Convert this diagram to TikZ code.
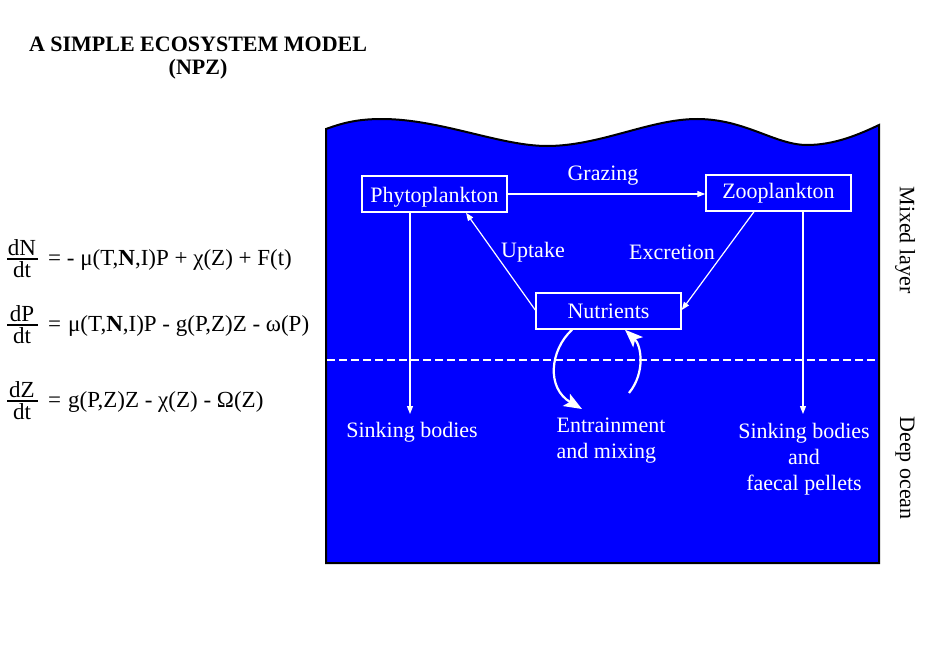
\documentclass[tikz,border=0pt]{standalone}
\usepackage{fontspec}
\setmainfont{Liberation Serif}
\usetikzlibrary{arrows.meta,calc}
\definecolor{sea}{RGB}{0,0,255}
\tikzset{
  every node/.style={font=\fontsize{22}{26}\selectfont, inner sep=0pt},
  boxnode/.style={draw=white, line width=1.5pt, text=white, minimum width=145pt, minimum height=36pt},
  wlabel/.style={text=white},
  flow/.style={draw=white, line width=1.2pt, -{Triangle[length=8pt,width=6pt]}},
  mixarrow/.style={draw=white, line width=2.2pt, -{Stealth[length=18pt,width=14pt,inset=4pt]}},
  sidelabel/.style={text=black, rotate=-90},
  eqtext/.style={font=\fontsize{23}{27}\selectfont},
  fracline/.style={draw=black, line width=1.3pt}
}
\begin{document}
\begin{tikzpicture}[x=1pt,y=-1pt]
\path[use as bounding box] (0,0) rectangle (935,661);
% title
\node[font=\fontsize{22}{26}\selectfont\bfseries] (title) at (198,44) {A SIMPLE ECOSYSTEM MODEL};
\node[font=\fontsize{22}{26}\selectfont\bfseries] (npz) at (198,69) {(NPZ)};
% sea
\draw[fill=sea, line width=2pt, line join=miter] (326,563) -- (326,129)
  .. controls (345,122) and (360,119) .. (382,119)
  .. controls (440,119) and (500,146) .. (547,146)
  .. controls (600,146) and (650,119) .. (697,119)
  .. controls (745,119) and (775,145) .. (807,145)
  .. controls (835,145) and (860,134) .. (879,125)
  -- (879,563) -- cycle;
% dashed boundary
\coordinate (dl) at (327,360);
\coordinate (dr) at (878,360);
\draw[white, line width=2pt, dash pattern=on 8pt off 4pt] (dl) -- (dr);
% boxes
\node[boxnode, text depth=0pt] (phy) at (434.5,194) {\raisebox{-2pt}{Phytoplankton}};
\node[boxnode] (zoo) at (778.5,193) {\raisebox{-2pt}{Zooplankton}};
\node[boxnode] (nut) at (608.5,311) {\raisebox{-1pt}{Nutrients}};
% flows
\draw[flow] (phy.east) -- (phy.east -| zoo.west);
\draw[flow] ($(nut.west)+(0,-1)$) -- ($(phy.south)+(31.5,0)$);
\draw[flow] ($(zoo.south)+(-24.5,0)$) -- ($(nut.east)+(0,-1)$);
\coordinate (sinkL) at (410,414);
\coordinate (sinkR) at (803,414);
\draw[flow] ($(phy.south)+(-24.5,0)$) -- (sinkL);
\draw[flow] ($(zoo.south)+(24.5,0)$) -- (sinkR);
% mixing
\coordinate (mixL) at (582,409);
\coordinate (mixR) at (629,393);
\draw[mixarrow] ($(nut.south)+(-36.5,0)$) .. controls (550,350) and (546,388) .. (mixL);
\draw[mixarrow] (mixR) .. controls (646,372) and (641,345) .. ($(nut.south)+(16.5,0)$);
% labels
\node[wlabel] (graz) at (603,176) {Grazing};
\node[wlabel] (upt) at (533,252) {Uptake};
\node[wlabel] (exc) at (672,252) {Excretion};
\node[wlabel] (sinkLt) at (412,432) {Sinking bodies};
\node[wlabel, align=left] (entr) at (611,441) {Entrainment\\and mixing};
\node[wlabel, align=center] (sinkRt) at (804,459) {Sinking bodies\\and\\faecal pellets};
% side labels
\node[sidelabel] (mixed) at (905,240) {Mixed layer};
\node[sidelabel] (deep) at (905,468) {Deep ocean};
% equations
\node[eqtext, anchor=south] (n1) at (22,256) {dN};
\draw[fracline] (7,259) -- (38,259);
\node[eqtext, anchor=north] (d1) at (22,261) {dt};
\node[eqtext, anchor=base west] (e1) at (48,265) {= - μ(T,\textbf{N},I)P + χ(Z) + F(t)};
\node[eqtext, anchor=south] (n2) at (22,322) {dP};
\draw[fracline] (7,325) -- (38,325);
\node[eqtext, anchor=north] (d2) at (22,327) {dt};
\node[eqtext, anchor=base west] (e2) at (48,331) {=\hspace{7pt}μ(T,\textbf{N},I)P - g(P,Z)Z - ω(P)};
\node[eqtext, anchor=south] (n3) at (22,398) {dZ};
\draw[fracline] (7,401) -- (38,401);
\node[eqtext, anchor=north] (d3) at (22,403) {dt};
\node[eqtext, anchor=base west] (e3) at (48,407) {=\hspace{7pt}g(P,Z)Z - χ(Z) - Ω(Z)};
\end{tikzpicture}
\end{document}
